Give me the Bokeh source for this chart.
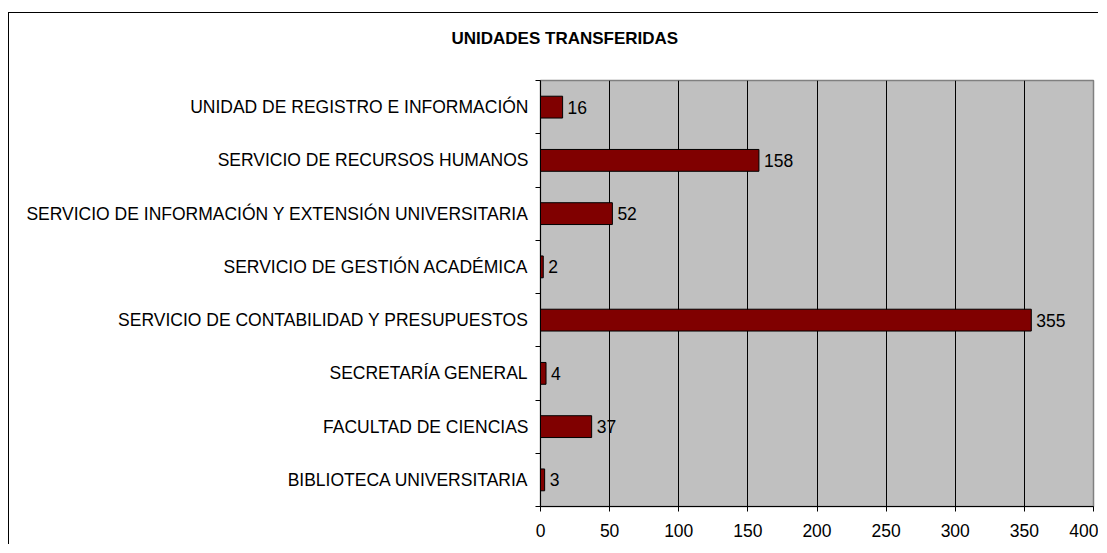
from bokeh.plotting import figure
from bokeh.models import Range1d, FixedTicker, ColumnDataSource, Title
from bokeh.core.properties import value
from bokeh.embed import file_html
from bokeh.resources import INLINE

# Data (bottom to top as drawn)
categories = [
    "BIBLIOTECA UNIVERSITARIA",
    "FACULTAD DE CIENCIAS",
    "SECRETARÍA GENERAL",
    "SERVICIO DE CONTABILIDAD Y PRESUPUESTOS",
    "SERVICIO DE GESTIÓN ACADÉMICA",
    "SERVICIO DE INFORMACIÓN Y EXTENSIÓN UNIVERSITARIA",
    "SERVICIO DE RECURSOS HUMANOS",
    "UNIDAD DE REGISTRO E INFORMACIÓN",
]
unidades = [3, 37, 4, 355, 2, 52, 158, 16]
x_ticks = [0, 50, 100, 150, 200, 250, 300, 350, 400]
title_text = "UNIDADES TRANSFERIDAS"

FONT = "Liberation Sans"
FS = "17.5px"
n = len(categories)
centers = [i + 0.5 for i in range(n)]

src = ColumnDataSource(dict(y=centers, v=unidades, lbl=[str(u) for u in unidades]))

p = figure(
    width=1090, height=532,
    output_backend="svg", toolbar_location=None,
    x_range=Range1d(0, 400), y_range=Range1d(0, n),
    min_border_left=531, min_border_right=6, min_border_top=67, min_border_bottom=39,
)
# outer chart border: only its left and top edges fall inside the picture
p.styles = {"margin-left": "8px", "margin-top": "12px",
            "border-left": "1px solid black", "border-top": "1px solid black"}

p.background_fill_color = "#C0C0C0"
p.border_fill_color = "white"
p.outline_line_color = "#808080"
p.outline_line_width = 1.5

p.hbar(y="y", right="v", left=0, height=0.41, source=src,
       fill_color="#800000", line_color="black", line_width=1)

p.text(x="v", y="y", text="lbl", source=src, x_offset=5,
       text_baseline="middle", text_align="left",
       text_font=value(FONT), text_font_size=FS, text_color="black")

# x axis
xa = p.xaxis[0]
xa.ticker = FixedTicker(ticks=x_ticks)
xa.axis_line_color = "black"
xa.major_tick_in = 0
xa.major_tick_out = 5
xa.major_tick_line_color = "black"
xa.minor_tick_line_color = None
xa.major_label_text_font = FONT
xa.major_label_text_font_size = FS
xa.major_label_text_color = "black"
xa.major_label_standoff = 12

# y axis
ya = p.yaxis[0]
ya.ticker = FixedTicker(ticks=centers, minor_ticks=list(range(n + 1)))
ya.major_label_overrides = {c: cat for c, cat in zip(centers, categories)}
ya.axis_line_color = "black"
ya.major_tick_line_color = None
ya.major_tick_in = 0
ya.major_tick_out = 0
ya.minor_tick_in = 0
ya.minor_tick_out = 5
ya.minor_tick_line_color = "black"
ya.major_label_text_font = FONT
ya.major_label_text_font_size = FS
ya.major_label_text_color = "black"
ya.major_label_standoff = 7

p.xgrid.ticker = FixedTicker(ticks=x_ticks[1:-1])
p.xgrid.grid_line_color = "black"
p.xgrid.grid_line_width = 1
p.ygrid.grid_line_color = None

# spacer panel between frame and title, pushes the title upward
spacer = Title(text=" ", text_font_size="1px", standoff=25)
p.add_layout(spacer, "above")

t = Title(text=title_text, align="left", offset=-89,
          text_font=FONT, text_font_size="17px", text_font_style="bold",
          text_color="black", standoff=10)
p.add_layout(t, "above")

open("out.html", "w").write(file_html(p, INLINE))
